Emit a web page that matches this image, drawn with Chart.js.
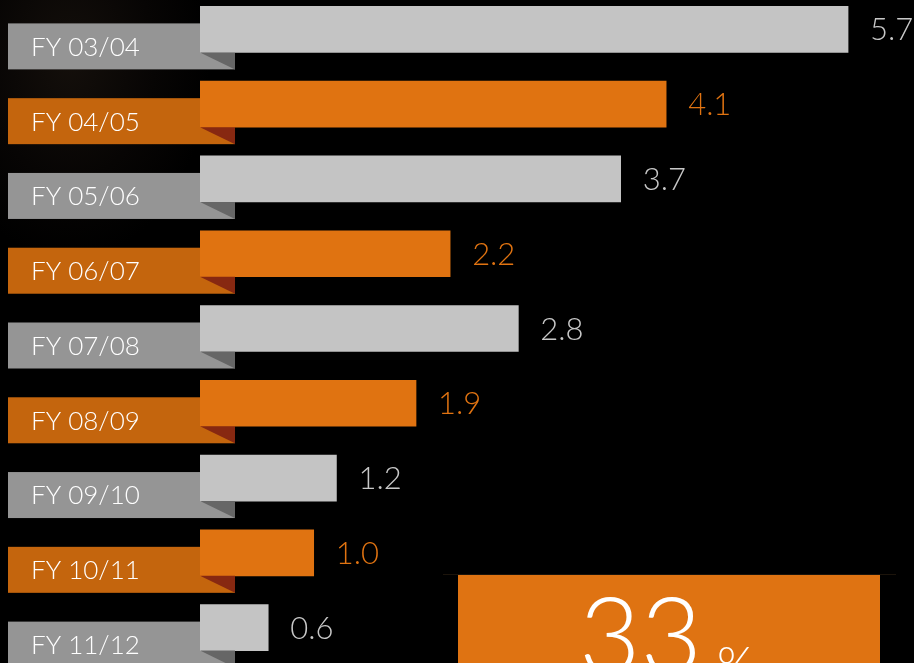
<!DOCTYPE html>
<html>
<head>
<meta charset="utf-8">
<script src="https://cdn.jsdelivr.net/npm/chart.js@4/dist/chart.umd.min.js"></script>
<style>
  html, body { margin: 0; padding: 0; background: #000; overflow: hidden; }
  #wrap {
    position: relative; width: 914px; height: 663px; overflow: hidden;
    background: radial-gradient(ellipse 140px 200px at 70px 60px, #140f0b 0%, #070504 60%, #000 100%);
  }
  #chart { position: absolute; left: 0; top: -8px; }
  #rule { position: absolute; left: 443px; top: 574px; width: 453px; height: 1px; background: #1c140b; }
  #big {
    position: absolute; left: 458px; top: 575px; width: 422px; height: 120px;
    background: #df7312; color: #fff; font-family: Lato, sans-serif; font-weight: 300;
  }
  #big .num { position: absolute; left: 121px; top: 5px; font-size: 106px; line-height: 1; }
  #big .pct { position: absolute; left: 259px; top: 64px; font-size: 48px; line-height: 1; }
</style>
</head>
<body>
<div id="wrap">
  <canvas id="chart" width="914" height="673"></canvas>
  <div id="rule"></div>
  <div id="big"><span class="num">33</span><span class="pct">%</span></div>
</div>
<script>
const years = ["FY 03/04", "FY 04/05", "FY 05/06", "FY 06/07", "FY 07/08", "FY 08/09", "FY 09/10", "FY 10/11", "FY 11/12"];
const values = [5.7, 4.1, 3.7, 2.2, 2.8, 1.9, 1.2, 1.0, 0.6];
const valueLabels = ["5.7", "4.1", "3.7", "2.2", "2.8", "1.9", "1.2", "1.0", "0.6"];

const GREY = { bar: "#c4c4c4", tab: "#959595", fold: "#666666", text: "#c8c8c8" };
const ORANGE = { bar: "#e07311", tab: "#c4650d", fold: "#872811", text: "#e07311" };
const themeOf = i => (i % 2 === 0 ? GREY : ORANGE);

// tabs behind the bars, folds + value text after
const tabsPlugin = {
  id: "tabs",
  beforeDatasetsDraw(chart) {
    const ctx = chart.ctx;
    const meta = chart.getDatasetMeta(0);
    ctx.save();
    meta.data.forEach((bar, i) => {
      const t = themeOf(i);
      ctx.fillStyle = t.tab;
      ctx.fillRect(8, bar.y - 6, 227, 46);
      ctx.fillStyle = "#ffffff";
      ctx.font = "300 26px Lato, sans-serif";
      ctx.textBaseline = "middle";
      ctx.textAlign = "left";
      ctx.fillText(years[i], 31, bar.y + 18);
    });
    ctx.restore();
  },
  afterDatasetsDraw(chart) {
    const ctx = chart.ctx;
    const meta = chart.getDatasetMeta(0);
    ctx.save();
    meta.data.forEach((bar, i) => {
      const t = themeOf(i);
      const bottom = bar.y + 23;
      ctx.fillStyle = t.fold;
      ctx.beginPath();
      ctx.moveTo(bar.base, bottom);
      ctx.lineTo(235, bottom);
      ctx.lineTo(235, bottom + 17);
      ctx.closePath();
      ctx.fill();
      ctx.fillStyle = t.text;
      ctx.font = "300 31px Lato, sans-serif";
      ctx.textBaseline = "middle";
      ctx.textAlign = "left";
      ctx.fillText(valueLabels[i], bar.x + 22, bar.y + 1);
    });
    ctx.restore();
  }
};

new Chart(document.getElementById("chart"), {
  type: "bar",
  data: {
    labels: years,
    datasets: [{
      data: values,
      backgroundColor: values.map((v, i) => themeOf(i).bar),
      barThickness: 46,
      borderWidth: 0
    }]
  },
  options: {
    indexAxis: "y",
    responsive: false,
    animation: false,
    layout: { padding: { left: 200, right: 0, top: 0, bottom: 0 } },
    plugins: { legend: { display: false }, tooltip: { enabled: false } },
    scales: {
      x: { display: false, min: 0, max: 6.28 },
      y: { display: false }
    }
  },
  plugins: [tabsPlugin]
});
</script>
</body>
</html>
